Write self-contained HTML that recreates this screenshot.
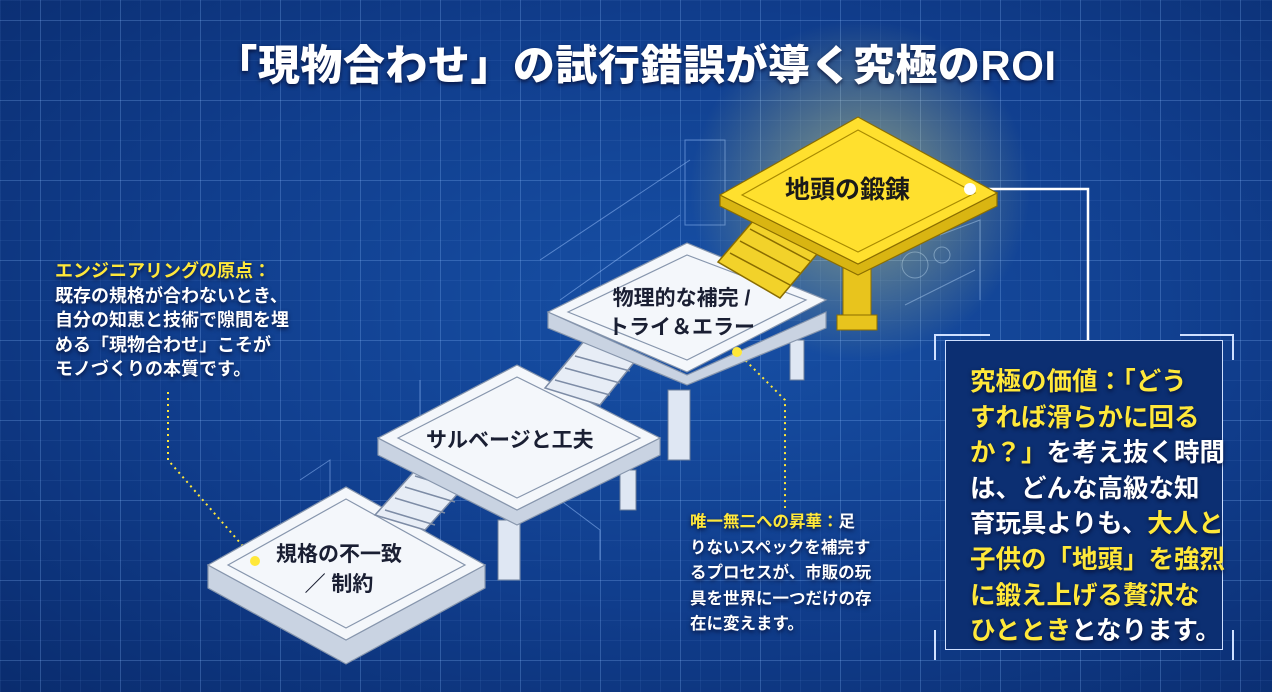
<!DOCTYPE html>
<html><head><meta charset="utf-8">
<style>
html,body{margin:0;padding:0;}
body{width:1272px;height:692px;overflow:hidden;position:relative;
background:radial-gradient(ellipse at 55% 45%,#1750a6 0%,#103d8c 55%,#0a2c6e 100%);
font-family:"Liberation Sans","Noto Sans CJK JP",sans-serif;font-weight:bold;}
.grid{position:absolute;inset:0;
background-image:linear-gradient(rgba(140,190,255,.2) 1px,transparent 1px),linear-gradient(90deg,rgba(140,190,255,.2) 1px,transparent 1px),
linear-gradient(rgba(140,190,255,.08) 1px,transparent 1px),linear-gradient(90deg,rgba(140,190,255,.08) 1px,transparent 1px);
background-size:80px 80px,80px 80px,20px 20px,20px 20px;background-position:40px 20px;}
.t{position:absolute;color:#fff;text-shadow:0 2px 4px rgba(0,0,30,.7);white-space:nowrap;}
.y{color:#ffe83a;}
.title{left:0;width:1272px;text-align:center;top:32px;font-size:42px;letter-spacing:0.5px;font-weight:900;}
.left{left:55px;top:259px;font-size:18px;line-height:24.5px;}
.mid{left:690px;top:510px;font-size:16.5px;line-height:25.5px;}
.box{position:absolute;left:945px;top:340px;width:278px;height:310px;background:#0c2f72;border:1.5px solid #cfe0ff;box-sizing:border-box;}
.rt{left:970px;top:365px;font-size:25.5px;line-height:35.6px;}
.pl{position:absolute;color:#1a1f33;white-space:nowrap;font-size:21px;text-align:center;}
</style></head><body>
<div class="grid"></div>
<svg width="1272" height="692" style="position:absolute;left:0;top:0">
<defs>
<radialGradient id="glow"><stop offset="0" stop-color="#fff37a" stop-opacity=".5"/><stop offset="1" stop-color="#fff37a" stop-opacity="0"/></radialGradient>
</defs>
<g stroke="#9cc4ff" stroke-opacity=".5" fill="none" stroke-width="1">
<rect x="685" y="140" width="40" height="85"/><path d="M540 260 L690 160 M560 300 L680 215 M420 380 L420 430 M300 480 L330 460 L330 500 M560 500 L600 530 L600 560 M940 235 L980 220 L980 300 M905 305 L975 270"/>
<circle cx="915" cy="265" r="13"/><circle cx="942" cy="255" r="8"/>
</g>
<circle cx="860" cy="190" r="170" fill="url(#glow)"/>
<g fill="#dfe7f3" stroke="#6b7d99" stroke-width="1">
<rect x="498" y="520" width="22" height="60"/><rect x="620" y="470" width="16" height="40"/>
<rect x="668" y="390" width="22" height="70"/><rect x="790" y="340" width="14" height="40"/>
</g>
<g fill="#e8c41d" stroke="#8a6d00" stroke-width="1"><rect x="843" y="260" width="28" height="60"/><rect x="837" y="315" width="40" height="15"/></g>
<path d="M970 189 L1088 189 L1088 340" stroke="#fff" stroke-width="2.5" fill="none"/>
<path d="M168 392 L168 460 L255 560" stroke="#ffe83a" stroke-width="2" stroke-dasharray="2 4" fill="none"/>
<path d="M737 352 L785 400 L785 508" stroke="#ffe83a" stroke-width="2" stroke-dasharray="2 4" fill="none"/>
<g stroke="#8796ad" stroke-width="1.2">
<polygon points="208,565 208,588 346,664 485,588 485,565 346,640" fill="#c9d3e2"/>
<polygon points="208,565 346,487 485,565 346,640" fill="#f4f7fb"/>
<polygon points="228,565 346,499 465,565 346,628" fill="none"/>
</g>
<g stroke="#7d8ca6" stroke-width="1.5" fill="#e7edf6">
<polygon points="375,515 420,465 470,480 425,530"/>
<path d="M385 510 L435 525 M395 498 L445 513 M405 487 L455 502 M415 476 L465 491" fill="none"/>
</g>
<g stroke="#8796ad" stroke-width="1.2">
<polygon points="378,438 378,455 517,525 660,455 660,438 517,510" fill="#c9d3e2"/>
<polygon points="378,438 517,365 660,438 517,510" fill="#f4f7fb"/>
<polygon points="398,438 517,377 640,438 517,498" fill="none"/>
</g>
<g stroke="#7d8ca6" stroke-width="1.5" fill="#e7edf6">
<polygon points="545,388 585,340 640,355 600,405"/>
<path d="M555 380 L610 395 M565 368 L620 383 M575 356 L630 371" fill="none"/>
</g>
<g stroke="#8796ad" stroke-width="1.2">
<polygon points="548,312 548,328 687,385 826,328 826,312 687,375" fill="#c9d3e2"/>
<polygon points="548,312 687,243 826,300 687,372" fill="#f4f7fb"/>
<polygon points="568,312 687,255 806,300 687,360" fill="none"/>
</g>
<g stroke="#8a6d00" stroke-width="1.5" fill="#f2d22a">
<polygon points="718,262 760,213 822,248 780,298"/>
<path d="M730 253 L790 285 M740 241 L800 273 M750 229 L810 261" fill="none"/>
</g>
<g stroke="#8a6d00" stroke-width="1.2">
<polygon points="720,195 720,206 858,275 997,206 997,193 858,264" fill="#d9b512"/>
<polygon points="720,195 858,117 997,193 858,264" fill="#ffe02e"/>
<polygon points="742,195 858,130 975,193 858,252" fill="none" stroke="#a88a00"/>
</g>
<circle cx="970" cy="189" r="6" fill="#fff"/>
<circle cx="255" cy="561" r="5" fill="#ffe83a"/>
<circle cx="737" cy="352" r="5" fill="#ffe83a"/>
<g stroke="#cfe0ff" stroke-width="2" fill="none"><path d="M935 360 L935 335 L990 335 M1180 335 L1233 335 L1233 360 M935 630 L935 660 M1233 630 L1233 660"/></g>
</svg>
<div class="t title">「現物合わせ」の試行錯誤が導く究極のROI</div>
<div class="t left"><span class="y">エンジニアリングの原点：</span><br>既存の規格が合わないとき、<br>自分の知恵と技術で隙間を埋<br>める「現物合わせ」こそが<br>モノづくりの本質です。</div>
<div class="pl" style="left:276px;top:540px;line-height:30px">規格の不一致<br>／ 制約</div>
<div class="pl" style="left:426px;top:424px">サルベージと工夫</div>
<div class="pl" style="left:608px;top:284px;line-height:29px">物理的な補完 /<br>トライ＆エラー</div>
<div class="pl" style="left:785px;top:170px;font-size:25px;color:#1a1a1a">地頭の鍛錬</div>
<div class="t mid"><span class="y">唯一無二への昇華：</span>足<br>りないスペックを補完す<br>るプロセスが、市販の玩<br>具を世界に一つだけの存<br>在に変えます。</div>
<div class="box"></div>
<div class="t rt"><span class="y">究極の価値：「どう<br>すれば滑らかに回る<br>か？」</span>を考え抜く時間<br>は、どんな高級な知<br>育玩具よりも、<span class="y">大人と<br>子供の「地頭」を強烈<br>に鍛え上げる贅沢な<br>ひととき</span>となります。</div>
</body></html>
